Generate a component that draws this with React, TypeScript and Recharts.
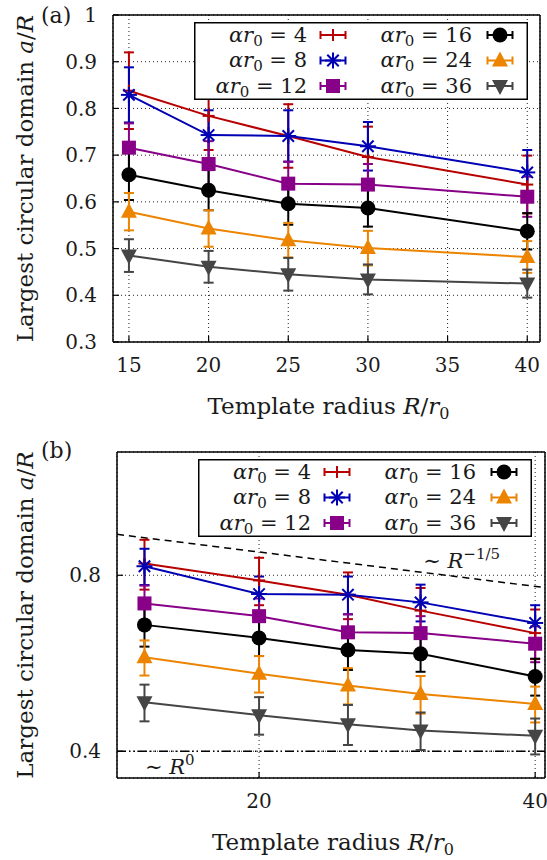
import React from 'react';
import {
  ComposedChart, Line, XAxis, YAxis, CartesianGrid, ErrorBar, Legend, Label,
  ReferenceLine, ReferenceDot,
} from 'recharts';

// ---------------- data ----------------
const R_VALUES = [15, 20, 25, 30, 40];
const A4 = [0.838, 0.784, 0.741, 0.696, 0.637];
const A4_ERR = [0.082, 0.073, 0.068, 0.065, 0.062];
const A8 = [0.829, 0.743, 0.741, 0.719, 0.663];
const A8_ERR = [0.059, 0.053, 0.055, 0.052, 0.048];
const A12 = [0.716, 0.681, 0.639, 0.637, 0.611];
const A12_ERR = [0.052, 0.049, 0.047, 0.044, 0.043];
const A16 = [0.658, 0.625, 0.596, 0.587, 0.537];
const A16_ERR = [0.054, 0.043, 0.045, 0.040, 0.039];
const A24 = [0.579, 0.543, 0.518, 0.501, 0.482];
const A24_ERR = [0.040, 0.039, 0.037, 0.037, 0.034];
const A36 = [0.485, 0.461, 0.445, 0.434, 0.425];
const A36_ERR = [0.035, 0.034, 0.035, 0.032, 0.030];

const ALPHA_LABELS = ['4', '8', '12', '16', '24', '36'];

const X_TICKS_A = [15, 20, 25, 30, 35, 40];
const Y_TICKS_A = [0.3, 0.4, 0.5, 0.6, 0.7, 0.8, 0.9, 1];
const X_TICKS_B = [20, 40];
const Y_TICKS_B = [0.4, 0.8];

// guide lines of panel (b)
const GUIDE_POWER = [{ R: 14, v: 0.94 }, { R: 41, v: 0.762 }];
const GUIDE_FLAT = 0.4;
const POWER_LABEL_AT = { R: 30.2, v: 0.823 };

// ---------------- styles ----------------
const FONT = "'DejaVu Serif', serif";
const TEXT = '#1a1a1a';

const SERIES = [
  { key: 'a4', err: 'a4e', values: A4, errors: A4_ERR, label: ALPHA_LABELS[0], color: '#b80000', shape: 'plus' },
  { key: 'a8', err: 'a8e', values: A8, errors: A8_ERR, label: ALPHA_LABELS[1], color: '#0000b4', shape: 'star' },
  { key: 'a12', err: 'a12e', values: A12, errors: A12_ERR, label: ALPHA_LABELS[2], color: '#870087', shape: 'square' },
  { key: 'a16', err: 'a16e', values: A16, errors: A16_ERR, label: ALPHA_LABELS[3], color: '#000000', shape: 'circle' },
  { key: 'a24', err: 'a24e', values: A24, errors: A24_ERR, label: ALPHA_LABELS[4], color: '#ec8400', shape: 'up' },
  { key: 'a36', err: 'a36e', values: A36, errors: A36_ERR, label: ALPHA_LABELS[5], color: '#454545', shape: 'down' },
];

const DATA = R_VALUES.map((r, i) => {
  const row: any = { R: r };
  SERIES.forEach((s) => {
    row[s.key] = s.values[i];
    row[s.err] = s.errors[i];
  });
  return row;
});

// ---------------- markers ----------------
function Marker({ shape, cx, cy, color }: any) {
  if (cx == null || cy == null || isNaN(cx) || isNaN(cy)) return null;
  switch (shape) {
    case 'plus':
      return (
        <g stroke={color} strokeWidth={2}>
          <line x1={cx - 6} y1={cy} x2={cx + 6} y2={cy} />
          <line x1={cx} y1={cy - 6} x2={cx} y2={cy + 6} />
        </g>
      );
    case 'star': {
      const s = 8, d = 5.7;
      return (
        <g stroke={color} strokeWidth={2}>
          <line x1={cx - s} y1={cy} x2={cx + s} y2={cy} />
          <line x1={cx} y1={cy - s} x2={cx} y2={cy + s} />
          <line x1={cx - d} y1={cy - d} x2={cx + d} y2={cy + d} />
          <line x1={cx - d} y1={cy + d} x2={cx + d} y2={cy - d} />
        </g>
      );
    }
    case 'square':
      return <rect x={cx - 7} y={cy - 7} width={14} height={14} fill={color} />;
    case 'circle':
      return <circle cx={cx} cy={cy} r={7.5} fill={color} />;
    case 'up':
      return <polygon points={`${cx},${cy - 9} ${cx - 8},${cy + 6} ${cx + 8},${cy + 6}`} fill={color} />;
    case 'down':
      return <polygon points={`${cx},${cy + 9} ${cx - 8},${cy - 6} ${cx + 8},${cy - 6}`} fill={color} />;
    default:
      return null;
  }
}

const makeDot = (s: any) => (p: any) => (
  <Marker key={`${s.key}-${p.index}`} shape={s.shape} cx={p.cx} cy={p.cy} color={s.color} />
);

// ---------------- legend ----------------
const LEG_W = 334;
const LEG_H = 78;

function AlphaText({ x, y, label }: any) {
  return (
    <text x={x} y={y} textAnchor="end" fontFamily={FONT} fontSize={21} fill={TEXT}>
      <tspan fontStyle="italic">αr</tspan>
      <tspan fontSize={15} dy={4}>0</tspan>
      <tspan dy={-4}>{' = ' + label}</tspan>
    </text>
  );
}

function LegendSample({ cx, cy, s }: any) {
  const half = 12.5;
  return (
    <g>
      <g stroke={s.color} strokeWidth={2}>
        <line x1={cx - half} y1={cy} x2={cx + half} y2={cy} />
        <line x1={cx - half} y1={cy - 4} x2={cx - half} y2={cy + 4} />
        <line x1={cx + half} y1={cy - 4} x2={cx + half} y2={cy + 4} />
      </g>
      <Marker shape={s.shape} cx={cx} cy={cy} color={s.color} />
    </g>
  );
}

function LegendBox() {
  const rows = [0, 1, 2];
  return (
    <svg width={LEG_W} height={LEG_H} style={{ display: 'block', overflow: 'visible' }}>
      <rect x={0.75} y={0.75} width={LEG_W - 1.5} height={LEG_H - 1.5} fill="#fff" stroke="#000" strokeWidth={1.5} />
      {rows.map((r) => {
        const cy = 13 + 25.5 * r;
        const s1 = SERIES[r];
        const s2 = SERIES[r + 3];
        return (
          <g key={r}>
            <AlphaText x={113} y={cy + 6.5} label={s1.label} />
            <LegendSample cx={139} cy={cy} s={s1} />
            <AlphaText x={278} y={cy + 6.5} label={s2.label} />
            <LegendSample cx={306} cy={cy} s={s2} />
          </g>
        );
      })}
    </svg>
  );
}

// ---------------- titles ----------------
const XTitle = (props: any) => {
  const vb = props.viewBox || { x: 0, y: 0, width: 0 };
  return (
    <text x={vb.x + vb.width / 2 + 2} y={vb.y + 72} textAnchor="middle" fontFamily={FONT} fontSize={23} fill={TEXT}>
      <tspan>Template radius </tspan>
      <tspan fontStyle="italic">R</tspan>
      <tspan>/</tspan>
      <tspan fontStyle="italic">r</tspan>
      <tspan fontSize={16} dy={5}>0</tspan>
    </text>
  );
};

const makeYTitle = (xPos: number) => (props: any) => {
  const vb = props.viewBox || { x: 0, y: 0, height: 0 };
  const cy = vb.y + vb.height / 2;
  return (
    <text x={xPos} y={cy} transform={`rotate(-90, ${xPos}, ${cy})`} textAnchor="middle" fontFamily={FONT} fontSize={23} fill={TEXT}>
      <tspan>Largest circular domain </tspan>
      <tspan fontStyle="italic">a</tspan>
      <tspan>/</tspan>
      <tspan fontStyle="italic">R</tspan>
    </text>
  );
};

const makeTag = (tag: string, x: number, yOff: number) => (props: any) => {
  const vb = props.viewBox || { y: 0 };
  return (
    <text x={x} y={vb.y + yOff} fontFamily={FONT} fontSize={22} fill={TEXT}>{tag}</text>
  );
};

const FlatLabel = (props: any) => {
  const vb = props.viewBox || { x: 0, y: 0 };
  return (
    <text x={vb.x + 28} y={vb.y + 23} fontFamily={FONT} fontSize={21} fill={TEXT}>
      <tspan>∼ </tspan>
      <tspan fontStyle="italic">R</tspan>
      <tspan fontSize={15} dy={-9}>0</tspan>
    </text>
  );
};

const PowerLabel = (props: any) => {
  const vb = props.viewBox || { x: 0, y: 0 };
  return (
    <text x={vb.x} y={vb.y} fontFamily={FONT} fontSize={21} fill={TEXT}>
      <tspan>∼ </tspan>
      <tspan fontStyle="italic">R</tspan>
      <tspan fontSize={15} dy={-9}>−1/5</tspan>
    </text>
  );
};

const tickStyle = { fontFamily: FONT, fontSize: 20, fill: TEXT };
const axisLineStyle = { stroke: '#000', strokeWidth: 1.5 };
const tickLineStyle = { stroke: '#000', strokeWidth: 1.2 };
const fmtY = (v: number) => (v === 1 ? '1' : v.toFixed(1));

function renderSeries() {
  return SERIES.map((s) => (
    <Line
      key={s.key}
      dataKey={s.key}
      type="linear"
      stroke={s.color}
      strokeWidth={2}
      dot={makeDot(s)}
      activeDot={false}
      isAnimationActive={false}
      legendType="none"
    >
      <ErrorBar dataKey={s.err} width={5} stroke={s.color} strokeWidth={2} isAnimationActive={false} />
    </Line>
  ));
}

function PanelA() {
  const xDomain: [number, number] = [14, 40.8];
  const yDomain: [number, number] = [0.3, 1];
  return (
    <ComposedChart width={547} height={430} data={DATA} margin={{ top: 14, right: 6, bottom: 58, left: 53 }}>
      <CartesianGrid stroke="#222" strokeDasharray="1 3" strokeWidth={1} />
      <XAxis dataKey="R" type="number" domain={xDomain} ticks={X_TICKS_A} allowDataOverflow interval={0}
        height={30} tickSize={-6} tickMargin={22} tick={tickStyle} axisLine={axisLineStyle} tickLine={tickLineStyle}>
        <Label content={XTitle} />
      </XAxis>
      <XAxis xAxisId="top" orientation="top" dataKey="R" type="number" domain={xDomain} ticks={X_TICKS_A}
        allowDataOverflow interval={0} height={1} tickSize={-6} tick={false} axisLine={axisLineStyle} tickLine={tickLineStyle} />
      <YAxis type="number" domain={yDomain} ticks={Y_TICKS_A} allowDataOverflow interval={0} width={60}
        tickSize={-6} tickMargin={22} tick={tickStyle} tickFormatter={fmtY} axisLine={axisLineStyle} tickLine={tickLineStyle}>
        <Label content={makeYTitle(33)} />
        <Label content={makeTag('(a)', 41, 8)} />
      </YAxis>
      <YAxis yAxisId="right" orientation="right" type="number" domain={yDomain} ticks={Y_TICKS_A} allowDataOverflow
        interval={0} width={1} tickSize={-6} tick={false} axisLine={axisLineStyle} tickLine={tickLineStyle} />
      {renderSeries()}
      <Legend layout="vertical" align="center" verticalAlign="middle"
        wrapperStyle={{ left: 194, top: 22, width: LEG_W, height: LEG_H }}
        content={() => <LegendBox />} />
    </ComposedChart>
  );
}

function PanelB() {
  const xDomain: [number, number] = [14, 41];
  const yDomain: [number, number] = [0.36, 1.3];
  return (
    <ComposedChart width={547} height={430} data={DATA} margin={{ top: 21, right: 1, bottom: 52, left: 57 }}>
      <CartesianGrid stroke="#222" strokeDasharray="1 3" strokeWidth={1} />
      <XAxis dataKey="R" type="number" scale="log" domain={xDomain} ticks={X_TICKS_B} allowDataOverflow interval={0}
        height={30} tickSize={-6} tickMargin={22} tick={tickStyle} axisLine={axisLineStyle} tickLine={tickLineStyle}>
        <Label content={XTitle} />
      </XAxis>
      <XAxis xAxisId="top" orientation="top" dataKey="R" type="number" scale="log" domain={xDomain} ticks={X_TICKS_B}
        allowDataOverflow interval={0} height={1} tickSize={-6} tick={false} axisLine={axisLineStyle} tickLine={tickLineStyle} />
      <YAxis type="number" scale="log" domain={yDomain} ticks={Y_TICKS_B} allowDataOverflow interval={0} width={60}
        tickSize={-6} tickMargin={22} tick={tickStyle} tickFormatter={fmtY} axisLine={axisLineStyle} tickLine={tickLineStyle}>
        <Label content={makeYTitle(33)} />
        <Label content={makeTag('(b)', 41, 6)} />
      </YAxis>
      <YAxis yAxisId="right" orientation="right" type="number" scale="log" domain={yDomain} ticks={Y_TICKS_B}
        allowDataOverflow interval={0} width={1} tickSize={-6} tick={false} axisLine={axisLineStyle} tickLine={tickLineStyle} />
      <ReferenceLine y={GUIDE_FLAT} stroke="#000" strokeWidth={1.5} strokeDasharray="9 3 1.5 3 1.5 3">
        <Label content={FlatLabel} />
      </ReferenceLine>
      <ReferenceLine
        segment={[{ x: GUIDE_POWER[0].R, y: GUIDE_POWER[0].v }, { x: GUIDE_POWER[1].R, y: GUIDE_POWER[1].v }]}
        stroke="#000" strokeWidth={1.5} strokeDasharray="7 5" ifOverflow="visible" />
      <ReferenceDot x={POWER_LABEL_AT.R} y={POWER_LABEL_AT.v} r={0} fill="none" stroke="none">
        <Label content={PowerLabel} />
      </ReferenceDot>
      {renderSeries()}
      <Legend layout="vertical" align="center" verticalAlign="middle"
        wrapperStyle={{ left: 198, top: 29, width: LEG_W, height: LEG_H }}
        content={() => <LegendBox />} />
    </ComposedChart>
  );
}

export default function App() {
  return (
    <div style={{ position: 'absolute', left: 0, top: 0, width: 547, height: 860, background: '#fff' }}>
      <div style={{ position: 'absolute', left: 0, top: 0 }}>
        <PanelA />
      </div>
      <div style={{ position: 'absolute', left: 0, top: 430 }}>
        <PanelB />
      </div>
    </div>
  );
}
